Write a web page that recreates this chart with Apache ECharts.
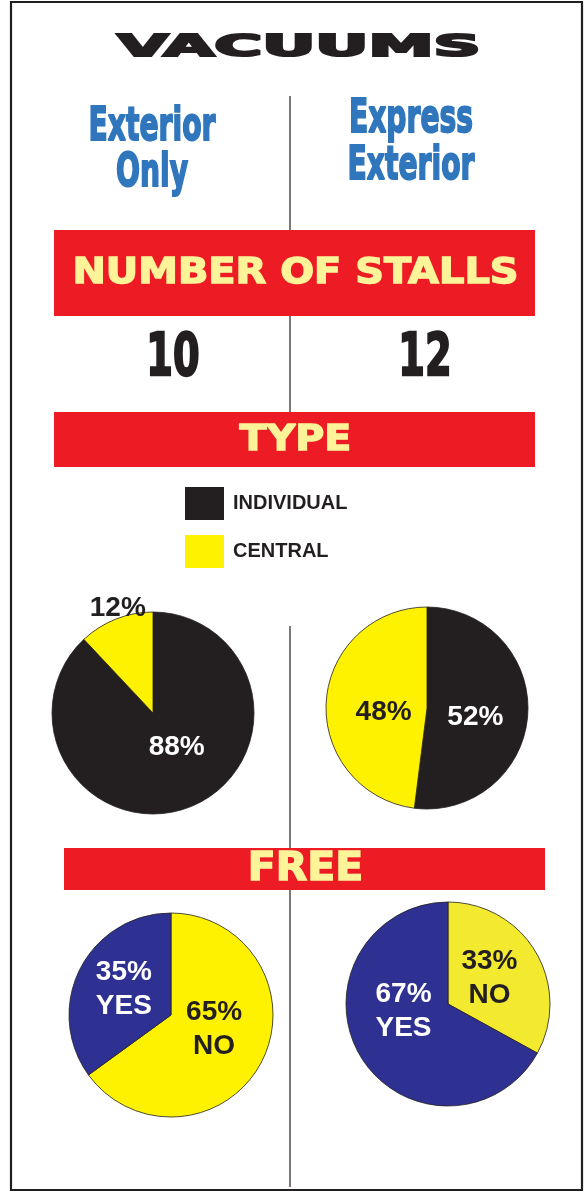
<!DOCTYPE html>
<html>

<head>
	<meta charset="utf-8">
	<title>vacuums</title>
	<script src="https://cdn.jsdelivr.net/npm/echarts@6/dist/echarts.min.js"></script>
	<style>
		html, body { margin: 0; padding: 0; background: #fff; }
		#main { width: 585px; height: 1193px; }
	</style>
</head>

<body>
	<div id="main"></div>
	<script>
		// data
		var columns = ['Exterior\nOnly', 'Express\nExterior'];
		var stalls = [10, 12];
		var typeNames = ['INDIVIDUAL', 'CENTRAL'];
		var typeValues = [[88, 12], [52, 48]];
		var freeNames = ['NO', 'YES'];
		var freeValues = [[65, 35], [33, 67]];

		var RED = '#ed1c24', BAND_TXT = '#fdf49a', INK = '#231f20';
		var YEL = '#fff200', BLUE = '#2e3192', HEAD = '#2f76bd';
		var FONT = 'DejaVu Sans';

		var colX = [152, 411];
		var pieCenters = { type: [[153, 713], [427, 708]], free: [[171, 1015], [448, 1004]] };
		// small nudges so the labels sit where the original put them
		var labelNudge = [
			[{ dx: 4, dy: -15 }, { dx: 35, dy: -11 }],
			[{ dx: -5, dy: 6 }, { dx: 10, dy: 8 }],
			[{ dx: -5, dy: -10 }, { dx: 1, dy: -1 }],
			[{ dx: -5, dy: 2 }, { dx: 2, dy: -20 }]
		];

		function bigText(txt, x, y, size, sx, color, lw) {
			return {
				type: 'text', x: x, y: y, scaleX: sx, originX: 0, z: 10,
				style: {
					text: txt, x: 0, y: 0, fill: color, font: 'bold ' + size + 'px "' + FONT + '"',
					align: 'center', verticalAlign: 'middle', stroke: color, lineWidth: lw || 0.6
				}
			};
		}

		function band(y, h, left, right, txt, size, sx) {
			return [
				{ type: 'rect', shape: { x: left, y: y, width: right - left, height: h }, style: { fill: RED } },
				bigText(txt, (left + right) / 2 + 1, y + h / 2 + 1, size, sx, BAND_TXT, 1.4)
			];
		}

		function vline(y1, y2) {
			return { type: 'line', shape: { x1: 290, y1: y1, x2: 290, y2: y2 }, style: { stroke: INK, lineWidth: 1.2 } };
		}

		var graphics = [
			{ type: 'rect', shape: { x: 11, y: 2, width: 571, height: 1188 }, style: { fill: null, stroke: INK, lineWidth: 2.2 } },
			bigText('VACUUMS', 299, 48, 30, 2.18, INK, 2.2),
			vline(96, 230), vline(316, 412), vline(626, 848), vline(890, 1187)
		];
		graphics = graphics.concat(band(230, 86, 54, 535, 'NUMBER OF STALLS', 35, 1.14));
		graphics = graphics.concat(band(412, 55, 54, 535, 'TYPE', 36, 1.1));
		graphics = graphics.concat(band(848, 42, 64, 545, 'FREE', 39, 1.05));

		var headY = [[128, 174], [120, 167]];
		columns.forEach(function (c, i) {
			var lines = c.split('\n');
			lines.forEach(function (l, j) {
				graphics.push(bigText(l, colX[i], headY[i][j], 47, 0.6, HEAD, 2));
			});
		});
		var stallX = [173, 425];
		stalls.forEach(function (s, i) {
			graphics.push(bigText(String(s), stallX[i], 360, 58, 0.66, INK, 2.4));
		});

		var series = [];
		typeValues.forEach(function (vals, i) {
			series.push({
				type: 'pie', radius: 101, center: pieCenters.type[i], startAngle: 90, clockwise: true,
				silent: true, animation: false,
				itemStyle: { borderColor: INK, borderWidth: 0.8 },
				labelLine: { show: false, length: 0, length2: 0 },
				labelLayout: function (p) { return labelNudge[p.seriesIndex][p.dataIndex]; },
				data: typeNames.map(function (n, k) {
					var outside = vals[k] < 20;
					return {
						name: n, value: vals[k],
						itemStyle: { color: k === 0 ? INK : YEL },
						label: {
							position: outside ? 'outside' : 'inside',
							color: k === 0 && !outside ? '#fff' : INK
						}
					};
				}),
				label: {
					show: true, formatter: '{c}%', fontFamily: 'Liberation Sans', fontWeight: 'bold', fontSize: 28
				}
			});
		});
		freeValues.forEach(function (vals, i) {
			series.push({
				type: 'pie', radius: 102, center: pieCenters.free[i], startAngle: 90, clockwise: true,
				silent: true, animation: false,
				itemStyle: { borderColor: INK, borderWidth: 0.8 },
				labelLine: { show: false },
				labelLayout: function (p) { return labelNudge[p.seriesIndex][p.dataIndex]; },
				data: freeNames.map(function (n, k) {
					return {
						name: n, value: vals[k],
						itemStyle: { color: k === 0 ? (i === 1 ? '#f3ea2f' : YEL) : BLUE },
						label: { color: k === 0 ? INK : '#fff' }
					};
				}),
				label: {
					show: true, position: 'inside', formatter: '{c}%\n{b}', fontFamily: 'Liberation Sans',
					fontWeight: 'bold', fontSize: 28, lineHeight: 34
				}
			});
		});

		var chart = echarts.init(document.getElementById('main'));
		chart.setOption({
			backgroundColor: '#fff',
			legend: {
				data: typeNames, orient: 'vertical', left: 180, top: 482, selectedMode: false,
				icon: 'rect', itemWidth: 39, itemHeight: 33, itemGap: 15,
				itemStyle: { borderWidth: 0 },
				textStyle: { color: INK, fontFamily: 'Liberation Sans', fontWeight: 'bold', fontSize: 20, padding: [0, 0, 0, 4] }
			},
			graphic: graphics,
			series: series
		});
	</script>
</body>

</html>
